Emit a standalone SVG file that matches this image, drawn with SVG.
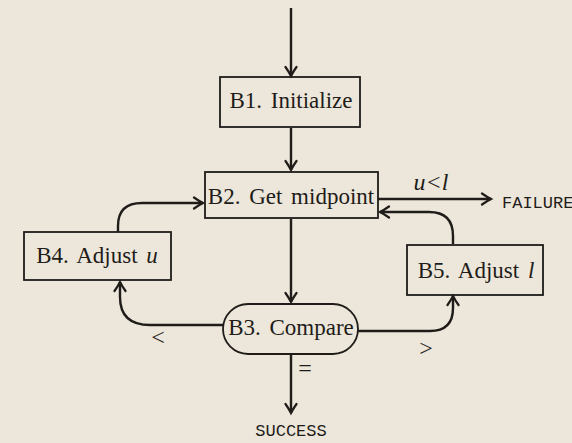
<svg xmlns="http://www.w3.org/2000/svg" width="572" height="443" viewBox="0 0 572 443">
<defs>
<marker id="ah" markerWidth="14" markerHeight="14" refX="11" refY="7" orient="auto" markerUnits="userSpaceOnUse">
<path d="M2,1.5 Q7,5 11,7 Q7,9 2,12.5" fill="none" stroke="#1f1c19" stroke-width="2.2" stroke-linecap="round"/>
</marker>
<style>
.box{fill:none;stroke:#1f1c19;stroke-width:1.8}
.lbl{font-family:"Liberation Serif","Times New Roman",serif;font-size:23px;fill:#1f1c19;text-anchor:middle;word-spacing:3px}
.tt{font-family:"Liberation Mono","Courier New",monospace;font-size:17px;fill:#1f1c19}
.con{fill:none;stroke:#1f1c19;stroke-width:2.4;marker-end:url(#ah)}
.sm{font-family:"Liberation Serif","Times New Roman",serif;font-size:24px;fill:#1f1c19;text-anchor:middle}
</style>
</defs>
<rect width="572" height="443" fill="#ece7da"/>
<g id="connectors">
<path class="con" d="M291,8 V76"/>
<path class="con" d="M291,128 V170"/>
<path class="con" d="M291,219 V302"/>
<path class="con" d="M291,354 V413"/>
<path class="con" d="M378,199 H491"/>
<path class="con" d="M118,232 V226 Q118,203 142,203 H203"/>
<path class="con" d="M453,244 V236 Q453,212 429,212 H380"/>
<path class="con" d="M223,325 H150 Q120,325 120,297 V282"/>
<path class="con" d="M358,331 H430 Q453,331 453,308 V296"/>
<text class="sm" x="431" y="190" font-style="italic">u&lt;l</text>
<text class="sm" x="158" y="345">&lt;</text>
<text class="sm" x="426" y="356">&gt;</text>
<text class="sm" x="305" y="376">=</text>
</g>
<g id="B1">
<rect class="box" x="220" y="77" width="140" height="50"/>
<text class="lbl" x="291" y="108">B1. Initialize</text>
</g>
<g id="B2">
<rect class="box" x="205" y="172" width="173" height="46"/>
<text class="lbl" x="291" y="204">B2. Get midpoint</text>
</g>
<g id="B3">
<rect class="box" x="223" y="304" width="135" height="50" rx="25" ry="25"/>
<text class="lbl" x="291" y="335">B3. Compare</text>
</g>
<g id="B4">
<rect class="box" x="24" y="232" width="147" height="48"/>
<text class="lbl" x="97" y="263">B4. Adjust <tspan font-style="italic">u</tspan></text>
</g>
<g id="B5">
<rect class="box" x="407" y="245" width="136" height="50"/>
<text class="lbl" x="476" y="278">B5. Adjust <tspan font-style="italic">l</tspan></text>
</g>
<g id="FAILURE">
<text class="tt" x="502" y="208">FAILURE</text>
</g>
<g id="SUCCESS">
<text class="tt" x="291" y="436" text-anchor="middle">SUCCESS</text>
</g>
</svg>
